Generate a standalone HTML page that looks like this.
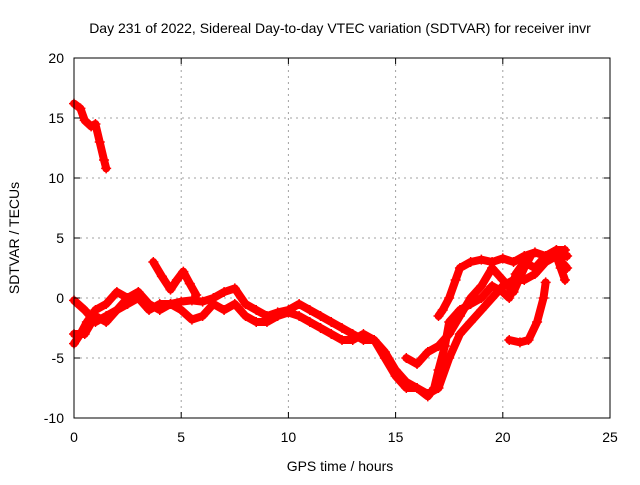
<!DOCTYPE html>
<html><head><meta charset="utf-8"><style>
body{margin:0;background:#fff}
svg text{font-family:"Liberation Sans",sans-serif;font-size:14px;fill:#000}
</style></head><body>
<svg id="chart" width="640" height="480" viewBox="0 0 640 480">
<rect x="0" y="0" width="640" height="480" fill="#fff"/>
<g id="grid"></g>
<g id="series"></g>
<rect x="74" y="58" width="536" height="360" fill="none" stroke="#000" stroke-width="1"/>
<g id="ticks"></g>
<text x="340" y="33" text-anchor="middle">Day 231 of 2022, Sidereal Day-to-day VTEC variation (SDTVAR) for receiver invr</text>
<text x="340" y="471" text-anchor="middle">GPS time / hours</text>
<text x="19" y="238" text-anchor="middle" transform="rotate(-90 19 238)">SDTVAR / TECUs</text>
</svg>
<script>
const xTicks=[0,5,10,15,20,25];
const yTicks=[-10,-5,0,5,10,15,20];
const trackAh=[0,0.3,0.5,0.8,1.0,1.2,1.4,1.5];
const trackAv=[16.2,15.8,14.8,14.3,14.5,13,11.5,10.8];
const trackBh=[0,0.3,0.6,1,1.5,2,2.5,3,3.5,4,4.5,5,5.5,6,6.5,7,7.5,8,8.5,9,9.5,10,10.5,11,11.5,12,12.5,13,13.5,14,14.5,15,15.5,16,16.5,16.8,17,17.3,17.5,18,18.5,19,19.5,20,20.3,20.6,21,21.5,22,22.5,22.9];
const trackBv=[-3.8,-3,-2,-1,-0.5,0.5,0,0.5,-0.5,-1,-0.5,-0.3,-0.2,-0.3,0,0.5,0.8,-0.5,-1,-1.5,-1.2,-1,-0.5,-1,-1.5,-2,-2.5,-3,-3.5,-3.5,-4.5,-6,-7,-7.5,-8.2,-7.5,-6,-4,-2,-1,-0.5,0,1,0.5,0,2,3,2.5,3.5,4,4];
const trackCh=[0,0.5,1,1.5,2,2.5,3,3.5,4,4.5,5,5.5,6,6.5,7,7.5,8,8.5,9,9.5,10,10.5,11,11.5,12,12.5,13,13.5,14,14.5,15,15.5,16,16.5,17,17.5,18,18.5,19,19.5,20,20.5,21,21.5,22,22.5,23];
const trackCv=[-0.2,-1,-2,-1.5,-1,-0.5,0,-1,-0.5,-0.5,-1,-1.8,-1.5,-0.5,-1,-0.5,-1.5,-2,-2,-1.5,-1.2,-1.5,-2,-2.5,-3,-3.5,-3.5,-3,-3.5,-5,-6.5,-7.5,-7.5,-8,-7.5,-5,-3,-2,-1,0,1,1.5,1.5,2,3,3.5,2.5];
const trackDh=[17,17.2,17.5,17.8,18,18.5,19,19.5,20,20.5,21,21.5,22,22.5,22.8,23];
const trackDv=[-1.5,-1,0,1.5,2.5,3,3.2,3,3.3,3,3.5,3.8,3.5,4,3.5,3.5];
const trackEh=[3.7,4.1,4.5,4.8,5.1,5.4,5.7];
const trackEv=[3,1.8,0.7,1.5,2.2,1.2,0.25];
const trackFh=[20.3,20.8,21.2,21.6,21.9,22];
const trackFv=[-3.5,-3.7,-3.5,-2,0,1.3];
const trackGh=[22.5,22.7,22.9];
const trackGv=[3.5,2.5,1.5];
const trackHh=[15.5,16,16.5,17,17.5,18,18.5,19,19.5,20,20.5,21,21.3];
const trackHv=[-5,-5.5,-4.5,-4,-3,-1.5,0,1,2.5,1.5,0.5,2.5,3.5];
const trackIh=[0,0.5,1,1.5,2,2.5,3];
const trackIv=[-3,-3,-1.5,-2,-1,0,0.5];
const tracks=[[trackAh,trackAv],[trackBh,trackBv],[trackCh,trackCv],[trackDh,trackDv],[trackEh,trackEv],[trackFh,trackFv],[trackGh,trackGv],[trackHh,trackHv],[trackIh,trackIv]];
const X=h=>74+h*536/25, Y=v=>58+(20-v)*12;
const NS="http://www.w3.org/2000/svg";
const grid=document.getElementById('grid'),ticks=document.getElementById('ticks'),ser=document.getElementById('series');
function mk(tag,attrs,parent){const e=document.createElementNS(NS,tag);for(const k in attrs)e.setAttribute(k,attrs[k]);parent.appendChild(e);return e;}
xTicks.forEach(t=>{const x=X(t);
 if(t>0&&t<25){const g=mk('line',{x1:x,x2:x,y1:58,y2:418,stroke:'#a0a0a0','stroke-dasharray':'2,4'},grid);}
 const l=mk('path',{d:`M${x} 418v-6M${x} 58v6`,stroke:'#000'},ticks);
 const s=mk('text',{x:x,y:442,'text-anchor':'middle'},ticks);s.textContent=t;});
yTicks.forEach(t=>{const y=Y(t);
 if(t>-10&&t<20){const g=mk('line',{x1:74,x2:610,y1:y,y2:y,stroke:'#a0a0a0','stroke-dasharray':'2,4'},grid);}
 const l=mk('path',{d:`M74 ${y}h6M610 ${y}h-6`,stroke:'#000'},ticks);
 const s=mk('text',{x:64,y:y+5,'text-anchor':'end'},ticks);s.textContent=t;});
tracks.forEach(([hs,vs])=>{
 const d=hs.map((h,i)=>(i?'L':'M')+X(h).toFixed(1)+' '+Y(vs[i]).toFixed(1)).join('');
 const p=mk('path',{d:d,fill:'none',stroke:'#ff0000','stroke-width':8,'stroke-linejoin':'round','stroke-linecap':'round'},ser);
 
 
 hs.forEach((h,i)=>{const x=X(h),y=Y(vs[i]);
  const m=mk('path',{d:`M${x-5} ${y}h10M${x} ${y-5}v10`,stroke:'#ff0000','stroke-width':1.5},ser);
  
  });
});
</script>
</body></html>
